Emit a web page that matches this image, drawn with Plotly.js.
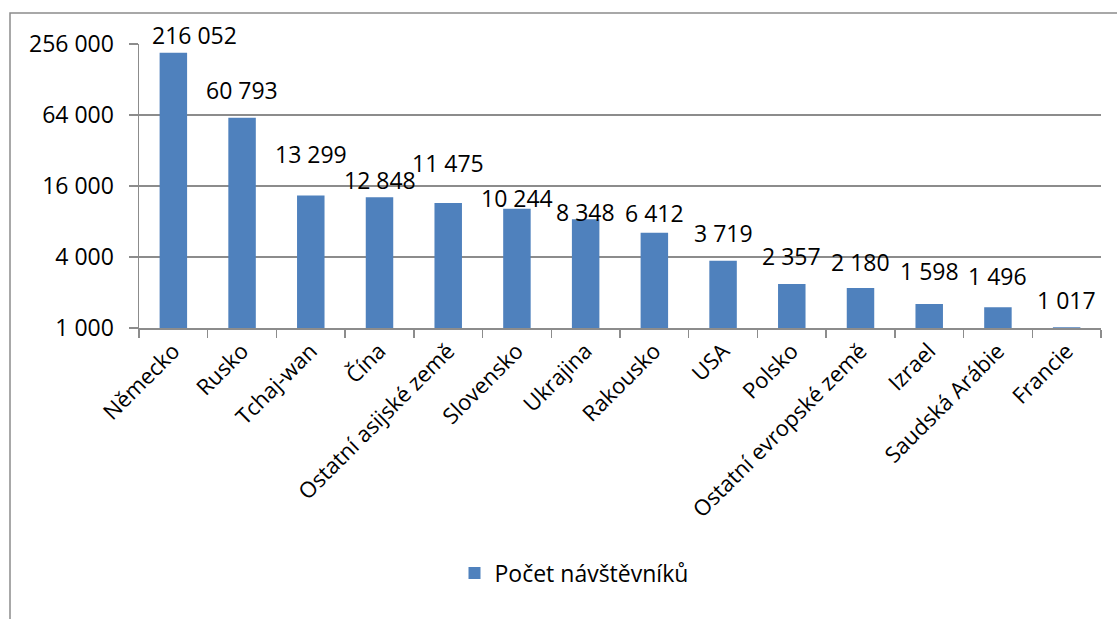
<!DOCTYPE html>
<html>
<head>
<meta charset="utf-8">
<script src="https://cdn.plot.ly/plotly-3.0.1.min.js"></script>
<style>
html,body{margin:0;padding:0;background:#fff;}
#chart{width:1117px;height:619px;}
</style>
</head>
<body>
<div id="chart"></div>
<script>
var categories = ["Německo","Rusko","Tchaj-wan","Čína","Ostatní asijské země","Slovensko","Ukrajina","Rakousko","USA","Polsko","Ostatní evropské země","Izrael","Saudská Arábie","Francie"];
var visitors = [216052, 60793, 13299, 12848, 11475, 10244, 8348, 6412, 3719, 2357, 2180, 1598, 1496, 1017];
var yTickValues = [1000, 4000, 16000, 64000, 256000];
var seriesName = "Počet návštěvníků";
// label lift above bar top (pixels), as laid out in the original
var labelLift = [18, 28, 41, 17, 40, 11, 7, 20, 28, 28, 26, 33, 31, 27];
var labelSide = [21, 0, 0, 0, 0, 0, 0, 0, 0, 0, 0, 0, 0, 0];

function fmt(n){ return String(n).replace(/\B(?=(\d{3})+(?!\d))/g, " "); }

var FONT = "Open Sans, sans-serif";
var L = 139, R = 16, T = 44, B = 291;
var W = 1117, H = 619;
var pw = W - L - R, ph = H - T - B;
function px2x(p){ return (p - L) / pw; }
function px2y(p){ return (H - B - p) / ph; }

var trace = {
  type: "bar",
  x: categories,
  y: visitors,
  name: seriesName,
  marker: {color: "#4F81BD", line: {width: 0}},
  width: 0.4,
  showlegend: true,
  hoverinfo: "x+y"
};

var annotations = visitors.map(function(v, i){
  return {
    x: categories[i], y: Math.log10(v), xref: "x", yref: "y",
    text: fmt(v), showarrow: false, yanchor: "middle", xanchor: "center",
    yshift: labelLift[i], xshift: labelSide[i],
    font: {family: FONT, size: 23, color: "#000"}
  };
});

var layout = {
  width: W, height: H,
  margin: {l: L, r: R, t: T, b: B, pad: 0},
  paper_bgcolor: "#fff", plot_bgcolor: "#fff",
  font: {family: FONT, color: "#000", size: 22},
  bargap: 0.6,
  xaxis: {
    type: "category",
    tickangle: -45,
    tickfont: {family: FONT, size: 22, color: "#000"},
    showline: true, linecolor: "#8c8c8c", linewidth: 1.5,
    ticks: "outside", ticklen: 8, tickcolor: "#8c8c8c", tickwidth: 1.5,
    tickson: "boundaries",
    showgrid: false,
    fixedrange: true
  },
  yaxis: {
    type: "log",
    range: [Math.log10(yTickValues[0]), Math.log10(yTickValues[yTickValues.length-1])],
    tickvals: yTickValues,
    ticktext: yTickValues.map(fmt),
    tickfont: {family: FONT, size: 23, color: "#000"},
    showline: true, linecolor: "#8c8c8c", linewidth: 1.5,
    ticks: "outside", ticklen: 9, tickcolor: "#8c8c8c", tickwidth: 1.5,
    ticklabelstandoff: 10,
    showgrid: true, gridcolor: "#8c8c8c", gridwidth: 1.5,
    zeroline: false,
    fixedrange: true
  },
  legend: {
    orientation: "h",
    x: px2x(574), xanchor: "center",
    y: px2y(573), yanchor: "middle",
    font: {family: FONT, size: 23, color: "#000"},
    bgcolor: "rgba(0,0,0,0)"
  },
  annotations: annotations,
  shapes: [{
    type: "rect", xref: "paper", yref: "paper",
    x0: px2x(10), x1: px2x(1130), y0: px2y(640), y1: px2y(13),
    line: {color: "#8c8c8c", width: 1.5}, fillcolor: "rgba(0,0,0,0)", layer: "below"
  }]
};

Plotly.newPlot("chart", [trace], layout, {displayModeBar: false, staticPlot: true});
</script>
</body>
</html>
